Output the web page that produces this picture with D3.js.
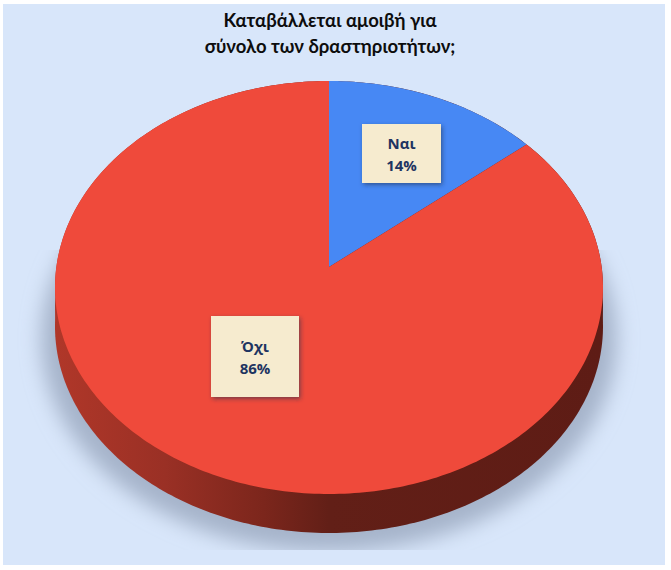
<!DOCTYPE html>
<html lang="el">
<head>
<meta charset="utf-8">
<title>Αμοιβή</title>
<script src="https://d3js.org/d3.v7.min.js"></script>
<style>
  html, body { margin: 0; padding: 0; background: #fff; }
  svg { display: block; }
</style>
</head>
<body>
<div id="chart"></div>
<script>
// data
var categories = ["Ναι", "Όχι"];
var values = [14, 86];
var valueLabels = ["14%", "86%"];
var titleLines = ["Καταβάλλεται αμοιβή για", "σύνολο των δραστηριοτήτων;"];
var sliceColors = ["#4788f4", "#ef4a3b"];

var width = 671, height = 570;

// top face is a tilted disc: centre of the pie sits above the centre of the ellipse
var cx = 329, apexY = 267, topY = 81, bottomY = 494, halfW = 274, depth = 39;
var c = (2 * apexY - topY - bottomY) / (bottomY - topY);
var a = apexY - topY + topY * c;
var k = halfW * Math.sqrt(1 - c * c);

function project(angle, r, dy) {
  var x = r * Math.sin(angle), y = -r * Math.cos(angle), w = 1 + c * y;
  return [cx + k * x / w, (apexY + a * y) / w + (dy || 0)];
}

function arcPoints(start, end, dy) {
  var n = Math.max(2, Math.ceil((end - start) * 60)), pts = [];
  for (var i = 0; i <= n; i++) pts.push(project(start + (end - start) * i / n, 1, dy));
  return pts;
}

var line = d3.line();
var svg = d3.select("#chart").append("svg").attr("width", width).attr("height", height);
var defs = svg.append("defs");

var sideGrad = defs.append("linearGradient").attr("id", "side")
  .attr("gradientUnits", "userSpaceOnUse")
  .attr("x1", cx - halfW).attr("x2", cx + halfW).attr("y1", 0).attr("y2", 0);
[[0, "#b03729"], [0.2, "#9a3025"], [0.38, "#7c261c"], [0.5, "#621f17"], [1, "#5e1c15"]].forEach(function (s) {
  sideGrad.append("stop").attr("offset", s[0]).attr("stop-color", s[1]);
});

defs.append("filter").attr("id", "blur").attr("x", "-20%").attr("y", "-20%").attr("width", "140%").attr("height", "140%")
  .append("feGaussianBlur").attr("stdDeviation", 10);
defs.append("clipPath").attr("id", "shadowClip").append("rect")
  .attr("x", 3).attr("y", 250).attr("width", 662).attr("height", 300);

var boxShadow = defs.append("filter").attr("id", "boxShadow")
  .attr("x", "-20%").attr("y", "-20%").attr("width", "140%").attr("height", "140%");
boxShadow.append("feDropShadow").attr("dx", 1.5).attr("dy", 2).attr("stdDeviation", 2)
  .attr("flood-color", "#1f2f50").attr("flood-opacity", 0.55);

// background panel
svg.append("rect").attr("x", 3).attr("y", 4).attr("width", 662).attr("height", 561).attr("fill", "#d8e6fa");

// title
svg.append("g").selectAll("text").data(titleLines).join("text")
  .attr("x", 330)
  .attr("y", function (d, i) { return 27 + i * 25.5; })
  .attr("text-anchor", "middle")
  .attr("font-family", "Lato, 'Noto Sans', sans-serif")
  .attr("font-size", 18.5)
  .attr("font-weight", 700)
  .attr("fill", "#0d0d0d")
  .text(function (d) { return d; });

var full = arcPoints(0, 2 * Math.PI, 0);

// soft shadow under the disc: the same outline, a bit bigger and lower
var shadowPts = full.map(function (p) {
  return [cx + (p[0] - cx) * 1.05, 339 + (p[1] - (topY + bottomY) / 2) * 1.03];
});
svg.append("g").attr("clip-path", "url(#shadowClip)")
  .append("path")
  .attr("d", line(shadowPts) + "Z")
  .attr("fill", "#a6b4ca")
  .attr("filter", "url(#blur)");

// side wall
svg.append("path")
  .attr("d", line(arcPoints(0, 2 * Math.PI, depth)) + "Z")
  .attr("fill", "url(#side)");
svg.append("path")
  .attr("d", line(full.concat(arcPoints(0, 2 * Math.PI, depth / 2))) + "Z")
  .attr("fill", "url(#side)");

// top face slices
var pie = d3.pie().sort(null);
var slices = pie(values);
svg.append("g").selectAll("path").data(slices).join("path")
  .attr("d", function (d) {
    return line([project(0, 0)].concat(arcPoints(d.startAngle, d.endAngle, 0))) + "Z";
  })
  .attr("fill", function (d, i) { return sliceColors[i]; });

// label boxes
var boxes = [
  { x: 362, y: 124, w: 79, h: 59 },
  { x: 211, y: 316, w: 88, h: 81 }
];
var labels = svg.append("g").selectAll("g").data(slices).join("g");
labels.append("rect")
  .attr("x", function (d, i) { return boxes[i].x; })
  .attr("y", function (d, i) { return boxes[i].y; })
  .attr("width", function (d, i) { return boxes[i].w; })
  .attr("height", function (d, i) { return boxes[i].h; })
  .attr("fill", "#f6ebcf")
  .attr("filter", "url(#boxShadow)");
labels.each(function (d, i) {
  var g = d3.select(this), b = boxes[i], mx = b.x + b.w / 2, my = b.y + b.h / 2;
  [categories[i], valueLabels[i]].forEach(function (t, j) {
    g.append("text")
      .attr("x", mx).attr("y", my - 4.5 + j * 21.5)
      .attr("text-anchor", "middle")
      .attr("font-family", "'Open Sans', 'Noto Sans', sans-serif")
      .attr("font-size", 15)
      .attr("font-weight", 700)
      .attr("fill", "#1e3461")
      .text(t);
  });
});
</script>
</body>
</html>
